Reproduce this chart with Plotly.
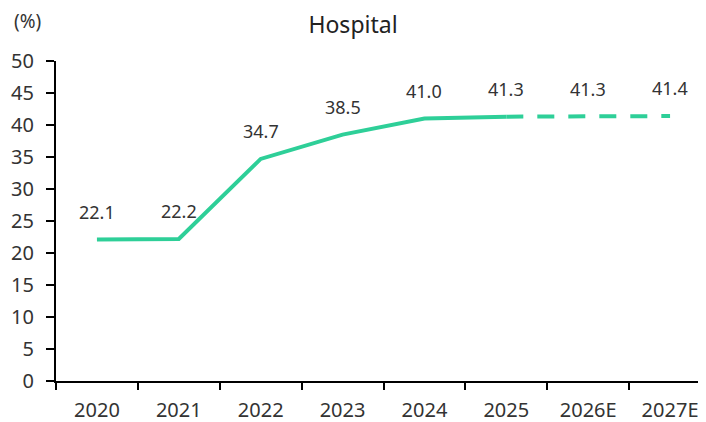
"""
    Line chart of the hospital share (%) from 2020 to 2027E.
"""
import plotly.graph_objects as go

years = ["2020", "2021", "2022", "2023", "2024", "2025", "2026E", "2027E"]
values = [22.1, 22.2, 34.7, 38.5, 41.0, 41.3, 41.3, 41.4]
labels = ["22.1", "22.2", "34.7", "38.5", "41.0", "41.3", "41.3", "41.4"]
y_ticks = [0, 5, 10, 15, 20, 25, 30, 35, 40, 45, 50]

LINE_COLOR = "#2ecf98"
FONT = "Noto Sans"

fig = go.Figure()

# Actual values (solid)
fig.add_trace(
    go.Scatter(
        x=years[:6],
        y=values[:6],
        mode="lines",
        line=dict(color=LINE_COLOR, width=4),
        hoverinfo="skip",
    )
)

# Estimates (dashed)
fig.add_trace(
    go.Scatter(
        x=years[5:],
        y=values[5:],
        mode="lines",
        line=dict(color=LINE_COLOR, width=4, dash="17px,14px"),
        hoverinfo="skip",
    )
)

# Value labels above each point (x given as category index)
for i, (value, label) in enumerate(zip(values, labels)):
    fig.add_annotation(
        x=i,
        y=value,
        text=label,
        showarrow=False,
        yshift=28,
        font=dict(family=FONT, size=18, color="#333333"),
    )

fig.add_annotation(
    text="(%)",
    xref="paper",
    yref="paper",
    x=-0.044,
    y=1.125,
    xanchor="center",
    yanchor="middle",
    showarrow=False,
    font=dict(family=FONT, size=19, color="#333333"),
)

fig.update_xaxes(
    type="category",
    range=[-0.5, 7.5],
    automargin=False,
    showgrid=False,
    showline=True,
    linecolor="black",
    linewidth=2,
    ticks="outside",
    ticklen=7,
    tickwidth=2,
    tickcolor="black",
    tickson="boundaries",
    ticklabelstandoff=10,
    tickfont=dict(family=FONT, size=20, color="#333333"),
    zeroline=False,
)

fig.update_yaxes(
    range=[0, 50],
    tickvals=y_ticks,
    automargin=False,
    showgrid=False,
    showline=True,
    linecolor="black",
    linewidth=2,
    ticks="outside",
    ticklen=8,
    tickwidth=2,
    tickcolor="black",
    ticklabelstandoff=8,
    tickfont=dict(family=FONT, size=20, color="#333333"),
    zeroline=False,
)

# page body adds an 8px offset, margins account for it
fig.update_layout(
    width=706,
    height=414,
    margin=dict(l=48, r=3, t=53, b=41),
    plot_bgcolor="white",
    paper_bgcolor="white",
    showlegend=False,
    title=dict(
        text="Hospital",
        x=0.4887,
        xref="container",
        xanchor="center",
        y=0.959,
        yanchor="middle",
        font=dict(family=FONT, size=23, color="#222222"),
    ),
)

fig.write_html("out.html")
